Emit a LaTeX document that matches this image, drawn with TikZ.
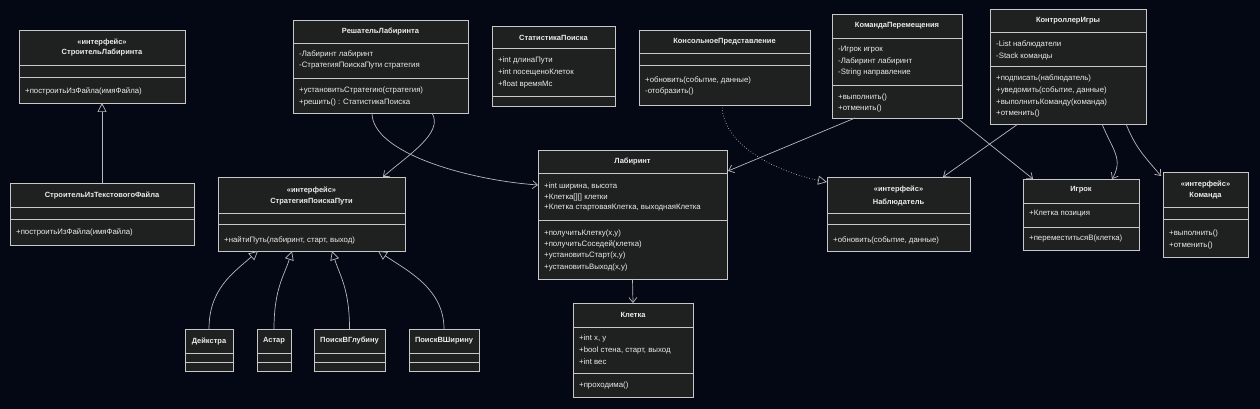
\documentclass[tikz,border=0pt]{standalone}
\usepackage{fontspec}
\setmainfont{Liberation Sans}
\usetikzlibrary{arrows.meta,calc}
\definecolor{bg}{RGB}{4,7,20}
\definecolor{boxfill}{RGB}{31,32,32}
\definecolor{boxline}{RGB}{200,200,200}
\definecolor{txt}{RGB}{236,236,236}
\definecolor{edge}{RGB}{185,185,185}
\tikzset{
 cls/.style={draw=boxline, fill=boxfill, line width=0.9pt, rectangle, inner sep=0pt, outer sep=0pt},
 sepline/.style={draw=boxline, line width=0.9pt},
 ttl/.style={text=txt, font=\fontsize{7.5}{9}\selectfont\bfseries, inner sep=0pt},
 mem/.style={text=txt, font=\fontsize{7.8}{9}\selectfont, inner sep=0pt, anchor=west},
 assoc/.style={draw=edge, line width=0.7pt, -{Straight Barb[length=5pt,width=8pt]}},
 inherit/.style={draw=edge, line width=0.7pt, -{Triangle[open,length=9pt,width=9pt,fill=bg]}},
 realize/.style={inherit, dotted},
}
\newcommand\umlbox[7]{%
 \node[cls, anchor=north west, minimum width={#4-#2}, minimum height={#5-#3}] (#1) at (#2,#3) {};
 \draw[sepline] (#2,#6) -- (#4,#6);
 \draw[sepline] (#2,#7) -- (#4,#7);
}
\begin{document}
\begin{tikzpicture}[x=1pt,y=-1pt]
\fill[bg] (0,0) rectangle (1260,409);
\useasboundingbox (0,0) rectangle (1260,409);

% СтроительЛабиринта
\umlbox{builder}{19}{30}{185}{103}{65}{77}
\node[ttl] (builder-s) at (102,42) {«интерфейс»};
\node[ttl] (builder-t) at (102,53) {СтроительЛабиринта};
\node[mem] (builder-m1) at (25,91) {+построитьИзФайла(имяФайла)};

% СтроительИзТекстовогоФайла
\umlbox{textBuilder}{10}{183}{194}{245}{207}{219}
\node[ttl] (textBuilder-t) at (102,195) {СтроительИзТекстовогоФайла};
\node[mem] (textBuilder-m1) at (16,232) {+построитьИзФайла(имяФайла)};

% СтратегияПоискаПути
\umlbox{strategy}{218}{177}{405}{251}{213}{224}
\node[ttl] (strategy-s) at (311.5,190) {«интерфейс»};
\node[ttl] (strategy-t) at (311.5,202) {СтратегияПоискаПути};
\node[mem] (strategy-m1) at (224,240) {+найтиПуть(лабиринт, старт, выход)};

% РешательЛабиринта
\umlbox{solver}{293}{20}{468}{113}{43}{78}
\node[ttl] (solver-t) at (380.5,32) {РешательЛабиринта};
\node[mem] (solver-a1) at (299,54) {-Лабиринт лабиринт};
\node[mem] (solver-a2) at (299,66) {-СтратегияПоискаПути стратегия};
\node[mem] (solver-m1) at (299,90) {+установитьСтратегию(стратегия)};
\node[mem] (solver-m2) at (299,102) {+решить() : СтатистикаПоиска};

% СтатистикаПоиска
\umlbox{stats}{492}{26}{615}{106}{48}{96}
\node[ttl] (stats-t) at (553.5,38) {СтатистикаПоиска};
\node[mem] (stats-a1) at (498,60) {+int длинаПути};
\node[mem] (stats-a2) at (498,72) {+int посещеноКлеток};
\node[mem] (stats-a3) at (498,84) {+float времяМс};

% КонсольноеПредставление
\umlbox{console}{639}{30}{810}{105}{53}{65}
\node[ttl] (console-t) at (724.5,42) {КонсольноеПредставление};
\node[mem] (console-m1) at (645,80) {+обновить(событие, данные)};
\node[mem] (console-m2) at (645,91) {-отобразить()};

% КомандаПеремещения
\umlbox{moveCmd}{832}{14}{962}{118}{38}{85}
\node[ttl] (moveCmd-t) at (897,26) {КомандаПеремещения};
\node[mem] (moveCmd-a1) at (838,50) {-Игрок игрок};
\node[mem] (moveCmd-a2) at (838,61) {-Лабиринт лабиринт};
\node[mem] (moveCmd-a3) at (838,72) {-String направление};
\node[mem] (moveCmd-m1) at (838,97) {+выполнить()};
\node[mem] (moveCmd-m2) at (838,108) {+отменить()};

% КонтроллерИгры
\umlbox{controller}{990}{9}{1146}{124}{32}{66}
\node[ttl] (controller-t) at (1068,21) {КонтроллерИгры};
\node[mem] (controller-a1) at (996,44) {-List наблюдатели};
\node[mem] (controller-a2) at (996,56) {-Stack команды};
\node[mem] (controller-m1) at (996,78) {+подписать(наблюдатель)};
\node[mem] (controller-m2) at (996,90) {+уведомить(событие, данные)};
\node[mem] (controller-m3) at (996,102) {+выполнитьКоманду(команда)};
\node[mem] (controller-m4) at (996,113) {+отменить()};

% Лабиринт
\umlbox{maze}{538}{150}{727}{279}{173}{220}
\node[ttl] (maze-t) at (632.5,162) {Лабиринт};
\node[mem] (maze-a1) at (544,186) {+int ширина, высота};
\node[mem] (maze-a2) at (544,197) {+Клетка[][] клетки};
\node[mem] (maze-a3) at (544,208) {+Клетка стартоваяКлетка, выходнаяКлетка};
\node[mem] (maze-m1) at (544,233) {+получитьКлетку(x,y)};
\node[mem] (maze-m2) at (544,244) {+получитьСоседей(клетка)};
\node[mem] (maze-m3) at (544,255) {+установитьСтарт(x,y)};
\node[mem] (maze-m4) at (544,267) {+установитьВыход(x,y)};

% Клетка
\umlbox{cell}{573}{303}{693}{397}{327}{373}
\node[ttl] (cell-t) at (633,315) {Клетка};
\node[mem] (cell-a1) at (579,338) {+int x, y};
\node[mem] (cell-a2) at (579,350) {+bool стена, старт, выход};
\node[mem] (cell-a3) at (579,362) {+int вес};
\node[mem] (cell-m1) at (579,385) {+проходима()};

% стратегии
\umlbox{dijkstra}{185}{329}{233}{371}{353}{362}
\node[ttl] (dijkstra-t) at (209,341) {Дейкстра};
\umlbox{astar}{257}{329}{291}{371}{353}{362}
\node[ttl] (astar-t) at (274,341) {Астар};
\umlbox{dfs}{314}{329}{385}{371}{353}{362}
\node[ttl] (dfs-t) at (349.5,341) {ПоискВГлубину};
\umlbox{bfs}{409}{329}{479}{371}{353}{362}
\node[ttl] (bfs-t) at (444,341) {ПоискВШирину};

% Наблюдатель
\umlbox{observer}{827}{177}{970}{251}{213}{224}
\node[ttl] (observer-s) at (898.5,189) {«интерфейс»};
\node[ttl] (observer-t) at (898.5,202) {Наблюдатель};
\node[mem] (observer-m1) at (833,240) {+обновить(событие, данные)};

% Игрок
\umlbox{player}{1023}{179}{1139}{250}{203}{227}
\node[ttl] (player-t) at (1081,190) {Игрок};
\node[mem] (player-a1) at (1029,214) {+Клетка позиция};
\node[mem] (player-m1) at (1029,238) {+переместитьсяВ(клетка)};

% Команда
\umlbox{command}{1163}{172}{1248}{257}{207}{219}
\node[ttl] (command-s) at (1205.5,184) {«интерфейс»};
\node[ttl] (command-t) at (1205.5,196) {Команда};
\node[mem] (command-m1) at (1169,233) {+выполнить()};
\node[mem] (command-m2) at (1169,245) {+отменить()};

% connectors
\draw[inherit] ($(textBuilder.north west)+(92,0)$) -- ($(builder.south west)+(83,0)$);
\draw[inherit] (dijkstra.north) .. controls +(0,-40) and +(-25,22) .. ($(strategy.south west)+(40,0)$);
\draw[inherit] (astar.north) .. controls +(0,-40) and +(-8,25) .. ($(strategy.south west)+(74,0)$);
\draw[inherit] (dfs.north) .. controls +(0,-40) and +(8,25) .. ($(strategy.south west)+(114,0)$);
\draw[inherit] (bfs.north) .. controls +(0,-40) and +(30,20) .. ($(strategy.south west)+(160,0)$);
\draw[assoc] ($(solver.south west)+(79,0)$) .. controls +(0,40) and +(-70,-5) .. ($(maze.north west)+(0,35)$);
\draw[assoc] ($(solver.south west)+(139,0)$) .. controls +(12,20) and +(25,-22) .. ($(strategy.north east)+(-22,0)$);
\draw[realize] ($(console.south west)+(83,0)$) .. controls +(0,40) and +(-50,-10) .. ($(observer.north west)+(0,5)$);
\draw[assoc] ($(moveCmd.south west)+(23,0)$) -- ($(maze.north east)+(1,21)$);
\draw[assoc] ($(moveCmd.south east)+(-5,0)$) -- ($(player.north west)+(10,0)$);
\draw[assoc] ($(controller.south west)+(28,0)$) -- ($(observer.north east)+(-27,0)$);
\draw[assoc] ($(controller.south west)+(112,0)$) .. controls +(10,25) and +(12,-20) .. ($(player.north east)+(-27,0)$);
\draw[assoc] ($(controller.south west)+(136,0)$) .. controls +(10,25) and +(-15,-18) .. ($(command.north west)+(-2,4)$);
\draw[assoc] (maze.south) -- (cell.north);
\end{tikzpicture}
\end{document}
